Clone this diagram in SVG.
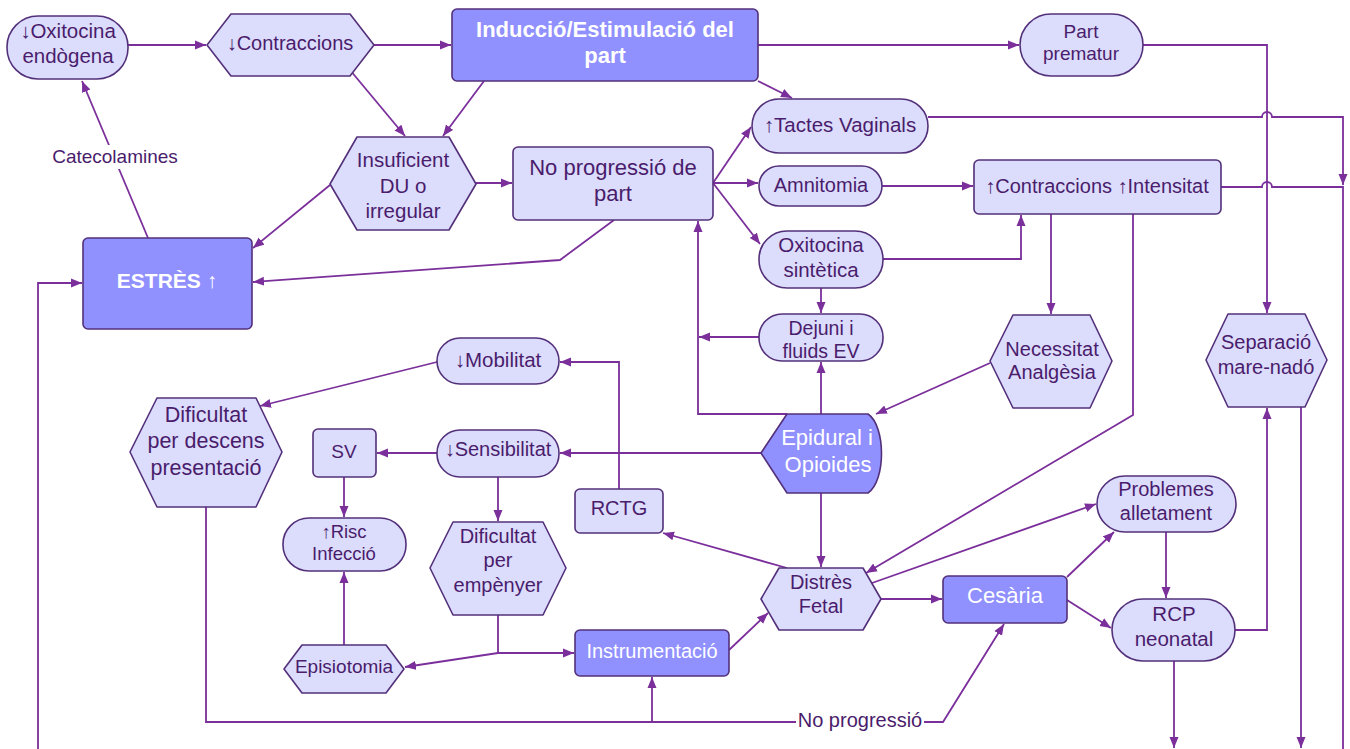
<svg xmlns="http://www.w3.org/2000/svg" width="1350" height="749" viewBox="0 0 1350 749">
  <defs>
    <marker id="ah" markerWidth="12" markerHeight="10" refX="11" refY="5" orient="auto" markerUnits="userSpaceOnUse">
      <path d="M0,0.5 L11,5 L0,9.5 z" fill="#7b2f9b"/>
    </marker>
    <style>
      .n { fill: #dcdcfc; stroke: #53307a; stroke-width: 1.6; stroke-linejoin: round; }
      .d { fill: #9090ff; stroke: #53307a; stroke-width: 1.6; stroke-linejoin: round; }
      .t { font-family: "Liberation Sans", Arial, sans-serif; font-size: 20px; fill: #4a1c6c; text-anchor: middle; }
      .tw { font-family: "Liberation Sans", Arial, sans-serif; font-size: 20px; fill: #ffffff; text-anchor: middle; }
      .b { font-weight: bold; }
      .e { fill: none; stroke: #7b2f9b; stroke-width: 1.8; stroke-linejoin: miter; }
      .a { marker-end: url(#ah); }
      .lbg { fill: #ffffff; }
    </style>
  </defs>

  <rect width="1350" height="749" fill="#ffffff"/>

  <!-- connectors -->
  <g id="connectors">
    <path class="e a" d="M128,45 H206"/>
    <path class="e a" d="M374,45 H451"/>
    <path class="e a" d="M350,70 L405,136"/>
    <path class="e a" d="M484,81 L443,136"/>
    <path class="e a" d="M330,185 L253,248"/>
    <path class="e a" d="M148,238 L82,81"/>
    <path class="e a" d="M476,183 H512"/>
    <path class="e a" d="M614,220 L560,260 L253,282"/>
    <path class="e a" d="M758,45 H1019"/>
    <path class="e a" d="M758,81 L792,98"/>
    <path class="e a" d="M713,183 L751,127"/>
    <path class="e a" d="M713,183 H758"/>
    <path class="e a" d="M713,183 L760,244"/>
    <path class="e a" d="M882,186 H973"/>
    <path class="e a" d="M883,259 H1021 V215"/>
    <path class="e a" d="M821,288 V313"/>
    <path class="e a" d="M759,337 H699"/>
    <path class="e a" d="M787,414 H698 V221"/>
    <path class="e a" d="M821,414 V362"/>
    <path class="e a" d="M990,363 L876,414"/>
    <path class="e a" d="M1051,214 V314"/>
    <path class="e a" d="M1133,214 V415 L866,573"/>
    <path class="e a" d="M928,117 H1262 a5,5 0 0 1 10,0 H1343 V185"/>
    <path class="e" d="M1221,187 H1262 a5,5 0 0 1 10,0 H1343 V749"/>
    <path class="e a" d="M1143,45 H1267 V313"/>
    <path class="e a" d="M1235,630 H1267 V408"/>
    <path class="e a" d="M1301,407 V748"/>
    <path class="e a" d="M1174,661 V748"/>
    <path class="e a" d="M38,749 V283 H82"/>
    <path class="e a" d="M437,362 L260,406"/>
    <path class="e a" d="M761,453 H560"/>
    <path class="e a" d="M619,489 V362 H560"/>
    <path class="e a" d="M437,453 H377"/>
    <path class="e a" d="M344,477 V517"/>
    <path class="e a" d="M498,477 V521"/>
    <path class="e a" d="M344,645 V572"/>
    <path class="e a" d="M498,615 V653 H574"/>
    <path class="e a" d="M498,653 L405,667"/>
    <path class="e a" d="M729,650 L768,613"/>
    <path class="e a" d="M787,568 L663,533"/>
    <path class="e a" d="M821,493 V567"/>
    <path class="e a" d="M872,583 L1096,504"/>
    <path class="e a" d="M881,599 H942"/>
    <path class="e a" d="M1067,577 L1114,532"/>
    <path class="e a" d="M1067,600 L1111,628"/>
    <path class="e a" d="M1166,532 V598"/>
    <path class="e a" d="M206,507 V722 H943 L1004,624"/>
    <path class="e a" d="M652,722 V677"/>

    <!-- edge labels -->
    <rect class="lbg" x="50" y="145" width="130" height="24"/>
    <text class="t" x="115" y="163" style="font-size:19px">Catecolamines</text>
    <rect class="lbg" x="796" y="709" width="128" height="24"/>
    <text class="t" x="860" y="727">No progressió</text>
  </g>

  <!-- nodes -->
  <g id="oxitocina-endogena">
    <rect class="n" x="7" y="16" width="121" height="63" rx="31"/>
    <text class="t" style="font-size:20.5px"><tspan x="68" y="38">↓Oxitocina</tspan><tspan x="68" y="63">endògena</tspan></text>
  </g>

  <g id="contraccions">
    <polygon class="n" points="207,45 231,14 350,14 374,45 350,76 231,76"/>
    <text class="t" x="290" y="50">↓Contraccions</text>
  </g>

  <g id="induccio">
    <rect class="d" x="452" y="9" width="306" height="72" rx="5"/>
    <text class="tw b" style="font-size:22px"><tspan x="605" y="37">Inducció/Estimulació del</tspan><tspan x="605" y="63">part</tspan></text>
  </g>

  <g id="part-prematur">
    <rect class="n" x="1020" y="14" width="123" height="62" rx="31"/>
    <text class="t" style="font-size:19px"><tspan x="1081" y="38">Part</tspan><tspan x="1081" y="60">prematur</tspan></text>
  </g>

  <g id="tactes-vaginals">
    <rect class="n" x="752" y="99" width="176" height="54" rx="27"/>
    <text class="t" x="840" y="132" style="font-size:20.5px">↑Tactes Vaginals</text>
  </g>

  <g id="insuficient-du">
    <polygon class="n" points="330,184 357,137 449,137 476,184 449,230 357,230"/>
    <text class="t" style="font-size:20.5px"><tspan x="403" y="167">Insuficient</tspan><tspan x="403" y="193">DU o</tspan><tspan x="403" y="218">irregular</tspan></text>
  </g>

  <g id="no-progressio">
    <rect class="n" x="513" y="147" width="200" height="73" rx="5"/>
    <text class="t" style="font-size:22px"><tspan x="613" y="175">No progressió de</tspan><tspan x="613" y="201">part</tspan></text>
  </g>

  <g id="amnitomia">
    <rect class="n" x="759" y="166" width="123" height="40" rx="20"/>
    <text class="t" x="821" y="192">Amnitomia</text>
  </g>

  <g id="contraccions-intensitat">
    <rect class="n" x="974" y="160" width="247" height="54" rx="5"/>
    <text class="t" x="1097" y="193">↑Contraccions ↑Intensitat</text>
  </g>

  <g id="oxitocina-sintetica">
    <rect class="n" x="759" y="231" width="124" height="57" rx="28"/>
    <text class="t" style="font-size:20.5px"><tspan x="821" y="252">Oxitocina</tspan><tspan x="821" y="277">sintètica</tspan></text>
  </g>

  <g id="dejuni">
    <rect class="n" x="759" y="314" width="124" height="47" rx="23"/>
    <text class="t" style="font-size:19.5px"><tspan x="821" y="335">Dejuni i</tspan><tspan x="821" y="358">fluids EV</tspan></text>
  </g>

  <g id="estres">
    <rect class="d" x="83" y="238" width="169" height="91" rx="5"/>
    <text class="tw b" x="167" y="288" style="font-size:21px">ESTRÈS ↑</text>
  </g>

  <g id="mobilitat">
    <rect class="n" x="437" y="338" width="122" height="46" rx="23"/>
    <text class="t" x="498" y="367" style="font-size:20.5px">↓Mobilitat</text>
  </g>

  <g id="dificultat-descens">
    <polygon class="n" points="130,452 157,398 256,398 282,452 256,507 157,507"/>
    <text class="t" style="font-size:21.5px"><tspan x="206" y="422">Dificultat</tspan><tspan x="206" y="448">per descens</tspan><tspan x="206" y="475">presentació</tspan></text>
  </g>

  <g id="sv">
    <rect class="n" x="313" y="429" width="63" height="48" rx="5"/>
    <text class="t" x="344" y="458" style="font-size:19px">SV</text>
  </g>

  <g id="sensibilitat">
    <rect class="n" x="437" y="430" width="122" height="47" rx="23"/>
    <text class="t" x="498" y="456">↓Sensibilitat</text>
  </g>

  <g id="epidural">
    <path class="d" d="M761,453 L787,414 H868 C886,426 886,481 868,493 H787 Z"/>
    <text class="tw" style="font-size:22px"><tspan x="827" y="445">Epidural i</tspan><tspan x="828" y="472">Opioides</tspan></text>
  </g>

  <g id="necessitat-analgesia">
    <polygon class="n" points="990,361 1013,315 1090,315 1112,361 1090,408 1013,408"/>
    <text class="t"><tspan x="1052" y="356">Necessitat</tspan><tspan x="1052" y="379">Analgèsia</tspan></text>
  </g>

  <g id="separacio">
    <polygon class="n" points="1206,360 1228,314 1305,314 1327,360 1305,407 1228,407"/>
    <text class="t"><tspan x="1266" y="349">Separació</tspan><tspan x="1266" y="374">mare-nadó</tspan></text>
  </g>

  <g id="rctg">
    <rect class="n" x="575" y="489" width="88" height="44" rx="5"/>
    <text class="t" x="619" y="515">RCTG</text>
  </g>

  <g id="risc-infeccio">
    <rect class="n" x="283" y="518" width="123" height="53" rx="26"/>
    <text class="t" style="font-size:18.5px"><tspan x="344" y="538">↑Risc</tspan><tspan x="344" y="560">Infecció</tspan></text>
  </g>

  <g id="dificultat-empenyer">
    <polygon class="n" points="430,568 453,522 543,522 566,568 543,615 453,615"/>
    <text class="t"><tspan x="498" y="543">Dificultat</tspan><tspan x="498" y="567">per</tspan><tspan x="498" y="592">empènyer</tspan></text>
  </g>

  <g id="episiotomia">
    <polygon class="n" points="284,669 302,645 386,645 404,669 386,693 302,693"/>
    <text class="t" x="344" y="673" style="font-size:19px">Episiotomia</text>
  </g>

  <g id="instrumentacio">
    <rect class="d" x="575" y="630" width="154" height="46" rx="5"/>
    <text class="tw" x="652" y="658">Instrumentació</text>
  </g>

  <g id="distres-fetal">
    <polygon class="n" points="761,599 779,568 863,568 881,599 863,630 779,630"/>
    <text class="t"><tspan x="821" y="589">Distrès</tspan><tspan x="821" y="613">Fetal</tspan></text>
  </g>

  <g id="cesaria">
    <rect class="d" x="943" y="576" width="124" height="47" rx="5"/>
    <text class="tw" x="1005" y="603" style="font-size:22px">Cesària</text>
  </g>

  <g id="problemes-alletament">
    <rect class="n" x="1097" y="476" width="139" height="56" rx="28"/>
    <text class="t"><tspan x="1166" y="496">Problemes</tspan><tspan x="1166" y="520">alletament</tspan></text>
  </g>

  <g id="rcp-neonatal">
    <rect class="n" x="1112" y="599" width="123" height="62" rx="31"/>
    <text class="t" style="font-size:20.5px"><tspan x="1174" y="621">RCP</tspan><tspan x="1174" y="646">neonatal</tspan></text>
  </g>
</svg>
